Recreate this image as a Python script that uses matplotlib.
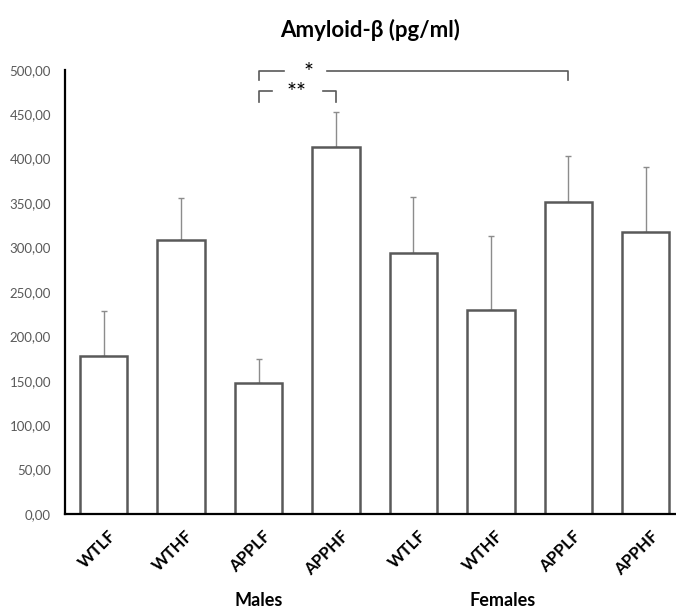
import numpy as np
import matplotlib.pyplot as plt
from matplotlib.ticker import FuncFormatter
import matplotlib.transforms as mtransforms

plt.rcParams['font.family'] = ['Lato', 'DejaVu Sans']

# hodnoty
groups = ['WTLF', 'WTHF', 'APPLF', 'APPHF', 'WTLF', 'WTHF', 'APPLF', 'APPHF']
means = [178, 308, 147, 413, 294, 230, 351, 317]
errors = [51, 47.5, 28, 39, 63, 83, 52, 74]
sex_labels = ['Males', 'Females']
sex_pos = [2.0, 5.15]

x = np.arange(len(groups))

fig = plt.figure(figsize=(6.76, 6.12), dpi=100)
ax = fig.add_axes([0.096, 0.160, 0.904, 0.726])

ax.bar(x, means, width=0.61, color='white', edgecolor='#595959', linewidth=1.8, zorder=2)
ax.errorbar(x, means, yerr=[np.zeros(len(means)), errors], fmt='none',
            ecolor='#8c8c8c', elinewidth=1.0, capsize=2.5, capthick=1.0, zorder=1)

ax.set_ylim(0, 500)
ax.set_xlim(-0.5, 7.39)
ax.set_yticks(np.arange(0, 501, 50))
ax.yaxis.set_major_formatter(FuncFormatter(lambda v, p: f'{v:.2f}'.replace('.', ',')))
ax.tick_params(axis='y', length=0, pad=10, labelsize=9.5, labelcolor='#595959')
ax.tick_params(axis='x', length=0)
ax.set_xticks(x)
ax.set_xticklabels([])

for s in ['top', 'right']:
    ax.spines[s].set_visible(False)
ax.spines['left'].set_linewidth(1.6)
ax.spines['bottom'].set_linewidth(1.6)

# popisky skupin pod osou, otocene
offset = mtransforms.ScaledTranslation(3 / 72, -10 / 72, fig.dpi_scale_trans)
tr = mtransforms.blended_transform_factory(ax.transData, ax.transAxes) + offset
for xi, g in zip(x, groups):
    ax.text(xi, 0, g, transform=tr, rotation=45, ha='right', va='top',
            rotation_mode='anchor', fontsize=12, fontweight='bold')

tr2 = mtransforms.blended_transform_factory(ax.transData, fig.transFigure)
for p, lab in zip(sex_pos, sex_labels):
    ax.text(p, 1 - 601 / 612, lab, transform=tr2, ha='center', va='center',
            fontsize=13, fontweight='bold')

fig.text(0.548, 1 - 30 / 612, 'Amyloid-β (pg/ml)', ha='center', va='center',
         fontsize=16, fontweight='bold')

# vyznamnost
bc = '#595959'
ax.plot([2, 2, 2.33], [488, 499, 499], color=bc, lw=1.2, clip_on=False)
ax.plot([2.88, 6, 6], [499, 499, 488], color=bc, lw=1.2, clip_on=False)
ax.text(2.65, 497, '*', ha='center', va='center', fontsize=17, clip_on=False)
ax.plot([2, 2, 2.17], [464, 476, 476], color=bc, lw=1.2, clip_on=False)
ax.plot([2.83, 3, 3], [476, 476, 464], color=bc, lw=1.2, clip_on=False)
ax.text(2.49, 474, '**', ha='center', va='center', fontsize=17, clip_on=False)

plt.savefig('out.png', dpi=100)
